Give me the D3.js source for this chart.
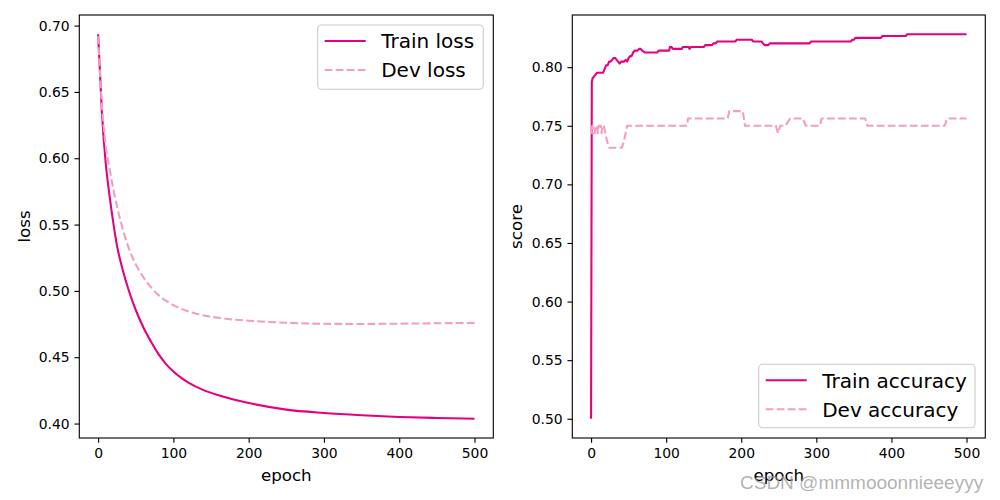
<!DOCTYPE html>
<html>
<head>
<meta charset="utf-8">
<script src="https://cdn.jsdelivr.net/npm/d3@7/dist/d3.min.js"></script>
<style>
  html, body { margin: 0; padding: 0; background: #fff; }
  svg { display: block; font-family: "DejaVu Sans", sans-serif; }
</style>
</head>
<body>
<svg id="chart" width="1000" height="500"></svg>
<script>
// ---------------- DATA ----------------
const lossEpochs = [0, 5, 10, 15, 20, 25, 30, 40, 50, 60, 70, 80, 90, 100, 110, 120, 140, 160, 180, 200, 250, 300, 350, 400, 450, 500];
const trainLoss = [0.6935, 0.635, 0.597, 0.5726, 0.552, 0.5343, 0.5217, 0.5016, 0.4856, 0.4726, 0.462, 0.4525, 0.445, 0.4392, 0.4346, 0.4309, 0.4252, 0.4213, 0.4181, 0.4155, 0.4105, 0.408, 0.4063, 0.405, 0.4042, 0.4036];
const devLoss   = [0.692, 0.640, 0.610, 0.5927, 0.5773, 0.5639, 0.5523, 0.5334, 0.520, 0.5104, 0.5029, 0.4969, 0.4926, 0.4893, 0.4866, 0.4845, 0.4815, 0.4797, 0.4784, 0.4775, 0.476, 0.4752, 0.4751, 0.4753, 0.4756, 0.4759];

const trainAccEpochs = [0, 1, 2, 4, 6, 8, 16, 18, 20, 22, 24, 26, 28, 30, 32, 34, 36, 38, 40, 44, 46, 48, 50, 52, 54, 56, 58, 62, 64, 66, 68, 72, 88, 90, 104, 105, 107, 109, 121, 122, 130, 131, 133, 150, 152, 161, 163, 166, 168, 192, 194, 214, 216, 227, 229, 231, 236, 238, 291, 293, 346, 348, 350, 352, 386, 388, 419, 421, 500];
const trainAcc = [0.5, 0.7875, 0.7906, 0.7922, 0.7937, 0.7953, 0.7953, 0.7984, 0.8016, 0.8016, 0.8047, 0.8047, 0.8062, 0.8078, 0.8078, 0.8062, 0.8047, 0.8031, 0.8047, 0.8047, 0.8062, 0.8047, 0.8078, 0.8094, 0.8094, 0.8125, 0.8141, 0.8141, 0.8156, 0.8156, 0.8141, 0.8125, 0.8125, 0.8141, 0.8141, 0.8172, 0.8172, 0.8156, 0.8156, 0.8172, 0.8172, 0.8156, 0.8172, 0.8172, 0.8188, 0.8188, 0.8203, 0.8203, 0.8219, 0.8219, 0.8234, 0.8234, 0.8219, 0.8219, 0.8203, 0.8188, 0.8188, 0.8203, 0.8203, 0.8219, 0.8219, 0.8234, 0.8234, 0.825, 0.825, 0.8266, 0.8266, 0.8281, 0.8281];

const devAccEpochs = [0, 1, 2, 3, 5, 6, 8, 9, 10, 13, 14, 15, 17, 19, 21, 24, 41, 44, 46, 48, 128, 129, 182, 184, 202, 205, 246, 249, 252, 259, 265, 282, 286, 305, 307, 365, 368, 471, 474, 500];
const devAcc = [0.75, 0.7437, 0.75, 0.7437, 0.7437, 0.75, 0.75, 0.7437, 0.75, 0.75, 0.7437, 0.75, 0.75, 0.7437, 0.7375, 0.7312, 0.7312, 0.7375, 0.7437, 0.75, 0.75, 0.7562, 0.7562, 0.7625, 0.7625, 0.75, 0.75, 0.7437, 0.75, 0.75, 0.7562, 0.7562, 0.75, 0.75, 0.7562, 0.7562, 0.75, 0.75, 0.7562, 0.7562];

const xTicks = [0, 100, 200, 300, 400, 500];
const lossTicks = [0.40, 0.45, 0.50, 0.55, 0.60, 0.65, 0.70];
const scoreTicks = [0.50, 0.55, 0.60, 0.65, 0.70, 0.75, 0.80];

const lossLabels = ["Train loss", "Dev loss"];
const accLabels = ["Train accuracy", "Dev accuracy"];
const xLabel = "epoch";
const lossYLabel = "loss";
const accYLabel = "score";
const watermark = "CSDN @mmmooonnieeeyyy";

// ---------------- STYLE ----------------
const trainColor = "#e4007f";
const devColor = "#f19ec2";
const lw = 2.08;
const dash = "7.7,3.33";

const svg = d3.select("#chart");

function padDomain(vals) {
  const [a, b] = d3.extent(vals);
  const m = (b - a) * 0.05;
  return [a - m, b + m];
}

function panel(opts) {
  const { x0, x1, y0, y1, series, yTicks, yLabel, yLabelX, legend } = opts;
  const g = svg.append("g");
  const allX = series.flatMap(s => s.x);
  const allY = series.flatMap(s => s.y);
  const x = d3.scaleLinear().domain(padDomain(allX)).range([x0, x1]);
  const y = d3.scaleLinear().domain(padDomain(allY)).range([y1, y0]);

  const clip = "clip" + Math.round(x0);
  svg.append("clipPath").attr("id", clip).append("rect")
    .attr("x", x0).attr("y", y0).attr("width", x1 - x0).attr("height", y1 - y0);
  series.forEach(s => {
    const pts = s.x.map((e, i) => [e, s.y[i]]);
    g.append("path")
      .attr("clip-path", `url(#${clip})`)
      .attr("d", d3.line().x(d => x(d[0])).y(d => y(d[1])).curve(s.curve || d3.curveLinear)(pts))
      .attr("fill", "none")
      .attr("stroke", s.color)
      .attr("stroke-width", lw)
      .attr("stroke-dasharray", s.dashed ? dash : null)
      .attr("stroke-linejoin", "round");
  });

  const xAxis = d3.axisBottom(x).tickValues(xTicks).tickSize(4.86).tickPadding(4.86).tickFormat(d3.format("d"));
  const yAxis = d3.axisLeft(y).tickValues(yTicks).tickSize(4.86).tickPadding(4.86).tickFormat(d3.format(".2f"));
  const gx = g.append("g").attr("transform", `translate(0,${y1})`).call(xAxis);
  const gy = g.append("g").attr("transform", `translate(${x0},0)`).call(yAxis);
  [gx, gy].forEach(a => {
    a.select(".domain").remove();
    a.selectAll(".tick line").attr("stroke", "#000").attr("stroke-width", 1.11);
    a.selectAll(".tick text").attr("font-size", 13.9).attr("fill", "#000")
      .attr("font-family", "DejaVu Sans, sans-serif");
  });
  gx.selectAll(".tick text").attr("dy", "0.76em");

  g.append("rect").attr("x", x0).attr("y", y0).attr("width", x1 - x0).attr("height", y1 - y0)
    .attr("fill", "none").attr("stroke", "#000").attr("stroke-width", 1.11);

  g.append("text").attr("x", (x0 + x1) / 2).attr("y", 481)
    .attr("text-anchor", "middle").attr("font-size", 16.7).text(xLabel);
  g.append("text")
    .attr("transform", `translate(${yLabelX},${(y0 + y1) / 2}) rotate(-90)`)
    .attr("text-anchor", "middle").attr("font-size", 16.7).text(yLabel);

  const L = legend;
  const lg = g.append("g");
  lg.append("rect").attr("x", L.x).attr("y", L.y).attr("width", L.w).attr("height", L.h)
    .attr("rx", 4).attr("ry", 4)
    .attr("fill", "#fff").attr("fill-opacity", 0.8)
    .attr("stroke", "#cccccc").attr("stroke-width", 1.11);
  series.forEach((s, i) => {
    const cy = L.y + 16 + i * 29;
    lg.append("line").attr("x1", L.x + 7).attr("x2", L.x + 48).attr("y1", cy).attr("y2", cy)
      .attr("stroke", s.color).attr("stroke-width", lw)
      .attr("stroke-dasharray", s.dashed ? dash : null);
    lg.append("text").attr("x", L.x + 63.5).attr("y", cy).attr("dy", "0.36em")
      .attr("font-size", 20).attr("fill", "#000").text(s.label);
  });
}

panel({
  x0: 79.3, x1: 493.3, y0: 15, y1: 438,
  series: [
    { x: lossEpochs, y: trainLoss, color: trainColor, dashed: false, label: lossLabels[0], curve: d3.curveMonotoneX },
    { x: lossEpochs, y: devLoss, color: devColor, dashed: true, label: lossLabels[1], curve: d3.curveMonotoneX }
  ],
  yTicks: lossTicks, yLabel: lossYLabel, yLabelX: 30,
  legend: { x: 317.7, y: 25, w: 165.6, h: 64.3 }
});

panel({
  x0: 572.3, x1: 985.3, y0: 15, y1: 438,
  series: [
    { x: trainAccEpochs, y: trainAcc, color: trainColor, dashed: false, label: accLabels[0] },
    { x: devAccEpochs, y: devAcc, color: devColor, dashed: true, label: accLabels[1] }
  ],
  yTicks: scoreTicks, yLabel: accYLabel, yLabelX: 522,
  legend: { x: 758.7, y: 364.3, w: 216.3, h: 63.4 }
});

svg.append("text").attr("x", 740).attr("y", 489)
  .attr("font-size", 19).attr("fill", "#999").attr("fill-opacity", 0.75)
  .attr("font-family", "Arial, Liberation Sans, sans-serif").text(watermark);
</script>
</body>
</html>
